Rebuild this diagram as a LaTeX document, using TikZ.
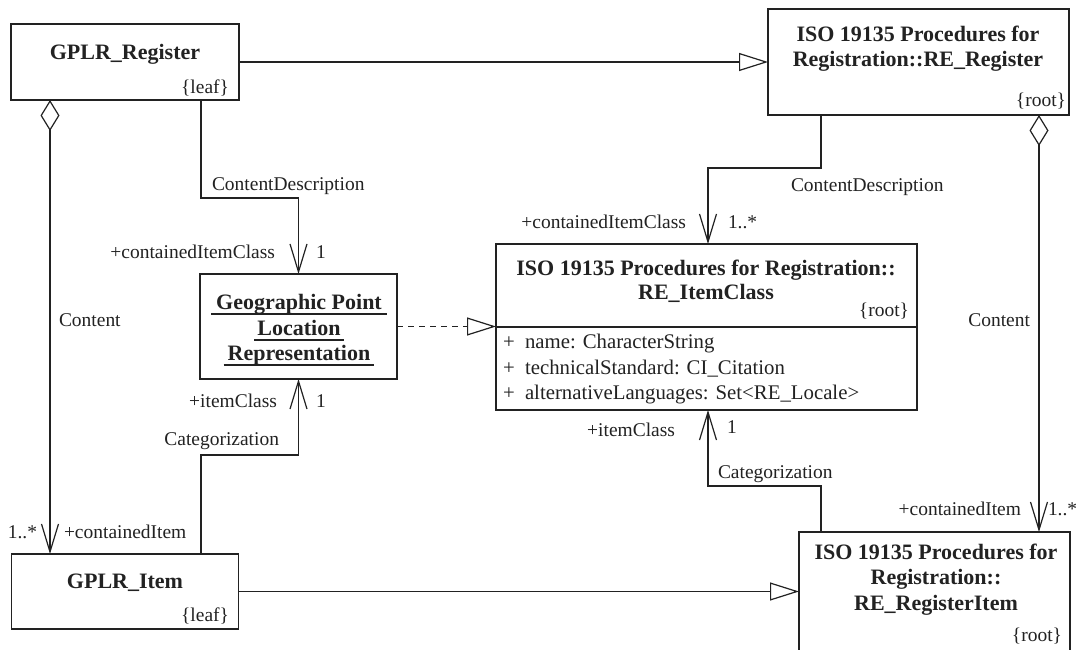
\documentclass[tikz,border=0pt]{standalone}
\usepackage{fontspec}
\setmainfont{Liberation Serif}
\usetikzlibrary{arrows.meta,calc}
\definecolor{ink}{HTML}{222222}
\newcommand\mylbl{\fontsize{14.6pt}{17pt}\selectfont}
\newcommand\myttl{\bfseries\fontsize{16.5pt}{19pt}\selectfont}
\newcommand\myattr{\fontsize{15.6pt}{18pt}\selectfont}
\tikzset{
  umlbox/.style={draw=ink, line width=0.9pt, rectangle, inner sep=0pt, outer sep=0pt},
  lbl/.style={inner sep=0pt, outer sep=0pt, font=\mylbl, text=ink},
  ttl/.style={inner sep=0pt, outer sep=0pt, font=\myttl, text=ink},
  attr/.style={inner sep=0pt, outer sep=0pt, font=\myattr, text=ink},
  conn/.style={draw=ink, line width=0.9pt},
  assoc/.style={conn, -{Straight Barb[length=21pt,width=12.75pt,line join=miter]}},
  aggr/.style={conn, {Diamond[open,length=23.25pt,width=14.25pt,fill=white]}-{Straight Barb[length=21pt,width=12.75pt,line join=miter]}},
  gen/.style={conn, -{Triangle[open,length=21.75pt,width=13.5pt,fill=white]}},
  real/.style={gen, dash pattern=on 4.5pt off 3.75pt},
  uline/.style={draw=ink, line width=0.8pt}
}
\begin{document}
\begin{tikzpicture}[x=0.75pt,y=-0.75pt]
\useasboundingbox (0,0) rectangle (1076,650);
\fill[white] (0,0) rectangle (1076,650);
\clip (0,0) rectangle (1076,650);

% boxes
\node[umlbox, minimum width=171pt, minimum height=57pt] (reg) at (125,62) {};
\node[umlbox, minimum width=225.75pt, minimum height=79.5pt] (rer) at (918.5,62) {};
\node[umlbox, minimum width=147.75pt, minimum height=78.75pt] (geo) at (298.5,326.5) {};
\node[umlbox, minimum width=315.75pt, minimum height=124.5pt] (ric) at (706.5,327) {};
\node[umlbox, minimum width=170.25pt, minimum height=56.25pt] (item) at (125,591.5) {};
\node[umlbox, minimum width=203.25pt, minimum height=126pt] (rri) at (934.5,616) {};
\draw[conn] (ric.west) -- (ric.east);

% box texts
\node[ttl, anchor=base] (t1) at (125,59) {GPLR\_Register};
\node[lbl, anchor=base east] (t2) at (229,93) {\{leaf\}};
\node[ttl, anchor=base] (t3) at (918,41) {ISO 19135 Procedures for};
\node[ttl, anchor=base] (t4) at (918,66) {Registration::RE\_Register};
\node[lbl, anchor=base east] (t5) at (1066,106) {\{root\}};

\node[ttl, anchor=base] (g1) at (299,309) {Geographic Point};
\node[ttl, anchor=base] (g2) at (299,335) {Location};
\node[ttl, anchor=base] (g3) at (299,360) {Representation};
\draw[uline] ($(g1.base west)+(-5,5)$) -- ($(g1.base east)+(5,5)$);
\draw[uline] ($(g2.base west)+(-3,5)$) -- ($(g2.base east)+(3,5)$);
\draw[uline] ($(g3.base west)+(-4,5)$) -- ($(g3.base east)+(4,5)$);

\node[ttl, anchor=base] (t6) at (706,275) {ISO 19135 Procedures for Registration::};
\node[ttl, anchor=base] (t7) at (706,299) {RE\_ItemClass};
\node[lbl, anchor=base east] (t8) at (909,316) {\{root\}};
\node[attr, anchor=base] (p1) at (509,348) {+};
\node[attr, anchor=base] (p2) at (509,374) {+};
\node[attr, anchor=base] (p3) at (509,399) {+};
\node[attr, anchor=base west] (a1) at (525,348) {name: CharacterString};
\node[attr, anchor=base west] (a2) at (525,374) {technicalStandard: CI\_Citation};
\node[attr, anchor=base west] (a3) at (525,399) {alternativeLanguages: Set<RE\_Locale>};

\node[ttl, anchor=base] (t9) at (125,588) {GPLR\_Item};
\node[lbl, anchor=base east] (t10) at (229,621) {\{leaf\}};

\node[ttl, anchor=base] (t11) at (936,559) {ISO 19135 Procedures for};
\node[ttl, anchor=base] (t12) at (936,584) {Registration::};
\node[ttl, anchor=base] (t13) at (936,610) {RE\_RegisterItem};
\node[lbl, anchor=base east] (t14) at (1062,641) {\{root\}};

% helper coordinates
\coordinate (c1) at (201,198);
\coordinate (c2) at (50,0);
\coordinate (c3) at (1039,0);
\coordinate (c4) at (201,455);
\coordinate (c5) at (821,168);
\coordinate (c6) at (708,0);
\coordinate (c7) at (821,486);

% connectors
\draw[gen] (reg.east) -- (reg.east -| rer.west);
\draw[gen] (item.east) -- (item.east -| rri.west);
\draw[real] (geo.east) -- (geo.east -| ric.west);
\draw[aggr] (reg.south -| c2) -- (item.north -| c2);
\draw[aggr] (rer.south -| c3) -- (rri.north -| c3);
\draw[assoc] (reg.south -| c1) -- (c1) -| (geo.north);
\draw[assoc] (item.north -| c4) -- (c4) -| (geo.south);
\draw[assoc] (rer.south -| c5) -- (c5) -| (ric.north -| c6);
\draw[assoc] (rri.north -| c7) -- (c7) -| (ric.south -| c6);

% connector labels
\node[lbl, anchor=base west] (l1) at (212,190) {ContentDescription};
\node[lbl, anchor=base east] (l2) at (275,258) {+containedItemClass};
\node[lbl, anchor=base west] (l3) at (316,258) {1};
\node[lbl, anchor=base west] (l4) at (59,326) {Content};
\node[lbl, anchor=base east] (l5) at (277,407) {+itemClass};
\node[lbl, anchor=base west] (l6) at (316,407) {1};
\node[lbl, anchor=base east] (l7) at (279,445) {Categorization};
\node[lbl, anchor=base east] (l8) at (37,538) {1..*};
\node[lbl, anchor=base west] (l9) at (64,538) {+containedItem};
\node[lbl, anchor=base west] (l10) at (791,191) {ContentDescription};
\node[lbl, anchor=base east] (l11) at (686,228) {+containedItemClass};
\node[lbl, anchor=base west] (l12) at (728,228) {1..*};
\node[lbl, anchor=base east] (l13) at (1030,326) {Content};
\node[lbl, anchor=base east] (l14) at (675,436) {+itemClass};
\node[lbl, anchor=base west] (l15) at (727,433) {1};
\node[lbl, anchor=base west] (l16) at (718,478) {Categorization};
\node[lbl, anchor=base east] (l17) at (1021,515) {+containedItem};
\node[lbl, anchor=base west] (l18) at (1048,515) {1..*};
\end{tikzpicture}
\end{document}
